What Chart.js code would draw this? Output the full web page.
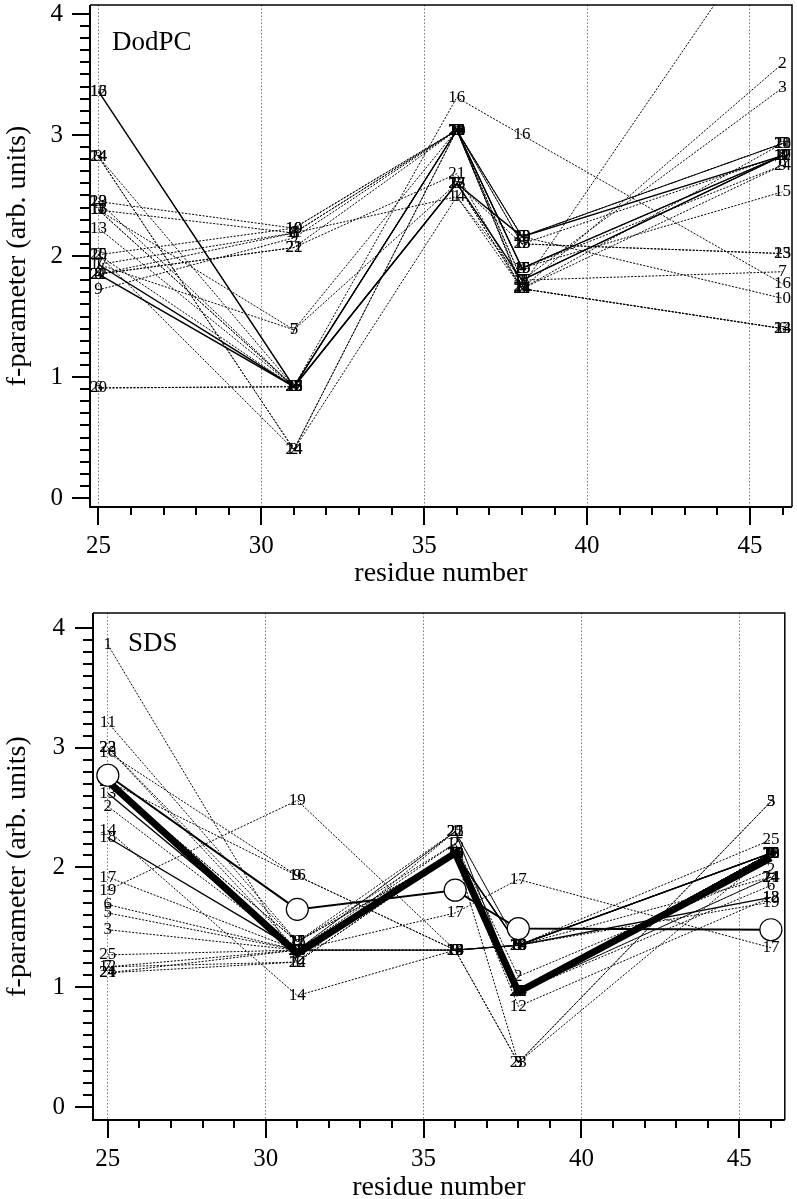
<!DOCTYPE html>
<html>
<head>
<meta charset="utf-8">
<script src="https://cdn.jsdelivr.net/npm/chart.js@4.4.1/dist/chart.umd.min.js"></script>
<style>
  html, body { margin: 0; padding: 0; background: #fff; overflow: hidden; }
  .panel { position: absolute; left: 0; width: 797px; }
  .panel canvas { display: block; }
  #topPanel { top: 0; height: 600px; }
  #bottomPanel { top: 600px; height: 599px; }
</style>
</head>
<body>
<div class="panel" id="topPanel"><canvas id="dodpcChart" width="797" height="600"></canvas></div>
<div class="panel" id="bottomPanel"><canvas id="sdsChart" width="797" height="599"></canvas></div>
<script>
// residues where the f-parameter was measured
const residues = [25, 31, 36, 38, 46];
const seriesIds = [1, 2, 3, 4, 5, 6, 7, 8, 9, 10, 11, 12, 13, 14, 15, 16, 17, 18, 19, 20, 21, 22, 23, 24, 25];
const xTickLabels = [25, 30, 35, 40, 45];
const yTickLabels = [0, 1, 2, 3, 4];

// DodPC: one array per residue, entry k belongs to series k+1
const dodpcAt25 = [1.93, 2.01, 2.82, 1.85, 2.38, 0.91, 1.93, 1.85, 1.72, 2.01, 2.38, 3.36, 2.23, 2.82, 2.38, 3.36, 1.93, 2.38, 2.45, 0.91, 1.85, 1.85, 2.45, 2.82, 2.01];
const dodpcAt31 = [2.19, 0.40, 0.92, 0.92, 1.39, 0.92, 1.39, 2.19, 2.15, 2.23, 2.19, 0.92, 0.92, 0.40, 0.92, 0.92, 0.92, 0.92, 2.23, 0.92, 2.07, 2.07, 0.92, 0.40, 0.92];
const dodpcAt36 = [2.49, 3.04, 3.04, 3.04, 3.04, 2.60, 2.60, 3.04, 3.04, 3.04, 3.04, 2.60, 3.04, 2.49, 3.04, 3.31, 2.60, 3.04, 3.04, 3.04, 2.68, 3.04, 2.60, 3.04, 2.60];
const dodpcAt38 = [1.80, 1.73, 1.80, 1.90, 2.16, 1.73, 1.80, 2.10, 1.90, 2.16, 1.80, 2.16, 2.10, 1.73, 1.90, 3.00, 1.80, 2.16, 1.90, 2.16, 1.73, 1.75, 1.73, 1.73, 2.10];
const dodpcAt46 = [2.83, 3.59, 3.39, 2.83, 2.93, 1.40, 1.87, 2.83, 2.75, 1.65, 2.83, 2.83, 2.02, 1.40, 2.53, 1.77, 2.83, 2.93, 2.83, 2.93, 2.93, 4.90, 1.40, 2.75, 2.02];
const dodpcSolid = [4, 12, 17];

// SDS
const sdsAt25 = [3.86, 2.51, 1.48, 2.72, 1.62, 1.69, 1.17, 2.72, 2.72, 2.72, 3.21, 1.17, 2.62, 2.31, 2.72, 2.96, 1.92, 2.25, 1.81, 2.72, 1.12, 3.00, 3.00, 1.12, 1.27];
const sdsAt31 = [1.21, 1.31, 1.31, 1.31, 1.31, 1.31, 1.31, 1.38, 1.93, 1.31, 1.38, 1.21, 1.31, 0.93, 1.38, 1.93, 1.31, 1.31, 2.56, 1.31, 1.31, 1.38, 1.31, 1.21, 1.31];
const sdsAt36 = [2.30, 2.20, 2.12, 2.12, 1.31, 2.12, 2.12, 2.12, 1.31, 2.12, 2.12, 2.12, 1.31, 1.31, 2.20, 1.31, 1.62, 2.12, 1.31, 2.12, 2.30, 2.30, 1.31, 2.12, 2.30];
const sdsAt38 = [1.35, 1.09, 0.37, 0.96, 0.37, 0.96, 0.96, 0.96, 1.35, 1.35, 0.96, 0.84, 1.35, 1.35, 0.96, 1.35, 1.90, 1.35, 1.35, 0.96, 0.96, 0.96, 0.37, 0.96, 1.35];
const sdsAt46 = [2.12, 1.98, 2.55, 2.12, 2.55, 1.85, 2.12, 2.12, 2.12, 2.12, 2.12, 1.75, 2.12, 1.92, 2.12, 2.12, 1.33, 1.75, 1.71, 2.12, 1.92, 2.12, 2.12, 1.92, 2.23];
const sdsSolid = [10, 13, 18];
const sdsMean = [2.72, 1.28, 2.12, 0.96, 2.08];
const sdsCircles = [2.77, 1.65, 1.81, 1.49, 1.48];

const FONT = '"Liberation Serif", "Times New Roman", Times, serif';
Chart.defaults.font.family = FONT;
Chart.defaults.color = '#000';

function drawSeriesLabels(chart) {
  const { ctx, chartArea } = chart;
  ctx.save();
  ctx.font = '17px ' + FONT;
  ctx.fillStyle = '#000';
  ctx.textAlign = 'center';
  ctx.textBaseline = 'middle';
  chart.data.datasets.forEach((ds, i) => {
    if (!ds.tag) return;
    chart.getDatasetMeta(i).data.forEach(pt => {
      if (pt.y < chartArea.top || pt.y > chartArea.bottom) return;
      ctx.fillText(ds.tag, pt.x, pt.y);
    });
  });
  ctx.restore();
  chart.$labelsDone = true;
}

// numbers at every point, drawn under the mean line and the circles
const seriesLabels = {
  id: 'seriesLabels',
  beforeDatasetsDraw(chart) { chart.$labelsDone = false; },
  beforeDatasetDraw(chart, args) {
    if (chart.data.datasets[args.index].coversLabels && !chart.$labelsDone) drawSeriesLabels(chart);
  },
  afterDatasetsDraw(chart) {
    if (!chart.$labelsDone) drawSeriesLabels(chart);
  }
};

// box, major/minor ticks and the panel name
const frame = {
  id: 'frame',
  afterDraw(chart, args, opts) {
    const { ctx, chartArea: a, scales: { x, y } } = chart;
    ctx.save();
    ctx.strokeStyle = '#000';
    ctx.lineWidth = 1.5;
    ctx.beginPath();
    ctx.moveTo(a.left, a.top); ctx.lineTo(a.right, a.top); ctx.lineTo(a.right, a.bottom);
    ctx.stroke();
    ctx.lineWidth = 2;
    ctx.beginPath();
    ctx.moveTo(a.left, a.top); ctx.lineTo(a.left, a.bottom); ctx.lineTo(a.right, a.bottom);
    for (let v = Math.ceil(x.min); v <= x.max; v++) {
      const px = Math.round(x.getPixelForValue(v));
      const len = xTickLabels.includes(v) ? 18 : 8;
      ctx.moveTo(px, a.bottom); ctx.lineTo(px, a.bottom + len);
    }
    for (let i = 0; i <= 40; i++) {
      const py = Math.round(y.getPixelForValue(i / 10));
      const len = i % 10 === 0 ? 18 : 10;
      ctx.moveTo(a.left, py); ctx.lineTo(a.left - len, py);
    }
    ctx.stroke();
    ctx.font = '27px ' + FONT;
    ctx.fillStyle = '#000';
    ctx.textAlign = 'left';
    ctx.textBaseline = 'middle';
    ctx.fillText(opts.text, a.left + opts.dx, a.top + opts.dy);
    ctx.restore();
  }
};

function buildChart(canvasId, cfg) {
  const datasets = seriesIds.map((id, k) => {
    const solid = cfg.solid.includes(id);
    return {
      label: String(id),
      tag: String(id),
      data: residues.map((r, j) => ({ x: r, y: cfg.columns[j][k] })),
      borderColor: '#000',
      borderWidth: solid ? 1.4 : 1,
      borderDash: solid ? [] : [2, 1.5],
      pointRadius: 0,
      tension: 0,
      order: solid ? 2 : 3
    };
  });
  if (cfg.mean) {
    datasets.push({
      label: 'mean',
      coversLabels: true,
      data: residues.map((r, j) => ({ x: r, y: cfg.mean[j] })),
      borderColor: '#000',
      borderWidth: 7,
      pointRadius: 0,
      order: 1
    });
  }
  if (cfg.circles) {
    datasets.push({
      label: 'circles',
      data: residues.map((r, j) => ({ x: r, y: cfg.circles[j] })),
      borderColor: '#000',
      borderWidth: 2,
      pointRadius: 11,
      pointBackgroundColor: '#fff',
      pointBorderColor: '#000',
      pointBorderWidth: 1.2,
      order: 0
    });
  }

  return new Chart(document.getElementById(canvasId), {
    type: 'line',
    data: { datasets },
    options: {
      responsive: false,
      animation: false,
      events: [],
      devicePixelRatio: 1,
      layout: { padding: { left: 0, right: cfg.padRight, top: cfg.padTop, bottom: 0 } },
      plugins: {
        legend: { display: false },
        tooltip: { enabled: false },
        frame: { text: cfg.name, dx: cfg.nameDx, dy: cfg.nameDy }
      },
      scales: {
        x: {
          type: 'linear',
          min: cfg.xMin,
          max: cfg.xMax,
          afterBuildTicks: s => { s.ticks = xTickLabels.map(v => ({ value: v })); },
          afterFit: s => { s.height = cfg.xHeight; s.paddingLeft = 0; s.paddingRight = 0; },
          ticks: { color: '#000', font: { size: 25 }, padding: 24.6, maxRotation: 0, autoSkip: false },
          grid: { color: '#777', lineWidth: 1, drawTicks: false },
          border: { display: false, dash: [1.5, 2] },
          title: {
            display: true,
            text: 'residue number',
            color: '#000',
            font: { size: 28, lineHeight: 0.8 },
            padding: { top: 0, bottom: cfg.xTitlePad }
          }
        },
        y: {
          type: 'linear',
          min: cfg.yMin,
          max: cfg.yMax,
          afterBuildTicks: s => { s.ticks = yTickLabels.map(v => ({ value: v })); },
          afterFit: s => { s.width = cfg.yWidth; s.paddingTop = 0; s.paddingBottom = 0; },
          ticks: { color: '#000', font: { size: 25 }, padding: cfg.yTickPad },
          grid: { drawOnChartArea: false, drawTicks: false },
          border: { display: false },
          title: {
            display: true,
            text: 'f-parameter (arb. units)',
            color: '#000',
            font: { size: 28, lineHeight: 0.8 },
            padding: { top: 6.8, bottom: 0 }
          }
        }
      }
    },
    plugins: [seriesLabels, frame]
  });
}

buildChart('dodpcChart', {
  name: 'DodPC', nameDx: 22, nameDy: 38,
  columns: [dodpcAt25, dodpcAt31, dodpcAt36, dodpcAt38, dodpcAt46],
  solid: dodpcSolid,
  xMin: 24.74, xMax: 46.29, yMin: -0.074, yMax: 4.074,
  padRight: 5, padTop: 5, yWidth: 90, xHeight: 93,
  xTitlePad: 15.3, yTickPad: 27
});

buildChart('sdsChart', {
  name: 'SDS', nameDx: 35, nameDy: 31,
  columns: [sdsAt25, sdsAt31, sdsAt36, sdsAt38, sdsAt46],
  solid: sdsSolid,
  mean: sdsMean,
  circles: sdsCircles,
  xMin: 24.53, xMax: 46.44, yMin: -0.109, yMax: 4.125,
  padRight: 3, padTop: 13, yWidth: 93, xHeight: 79,
  xTitlePad: 0, yTickPad: 28
});
</script>
</body>
</html>
